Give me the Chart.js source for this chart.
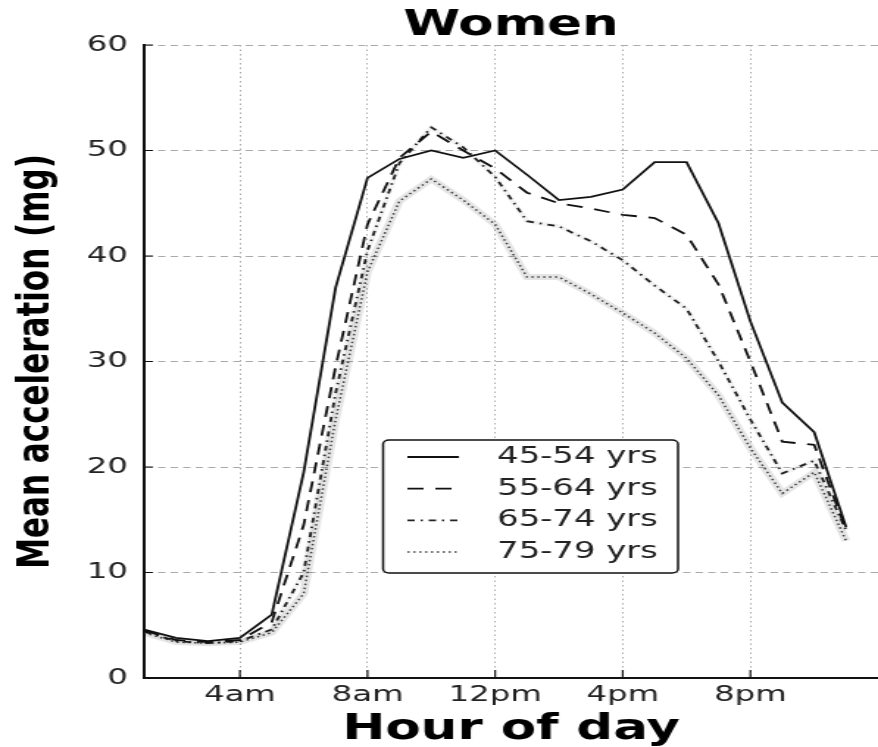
<!DOCTYPE html>
<html>
<head>
<meta charset="utf-8">
<script src="https://cdn.jsdelivr.net/npm/chart.js@4/dist/chart.umd.min.js"></script>
<style>
  html, body { margin: 0; padding: 0; background: #fff; overflow: hidden; }
  /* the original figure is stretched sideways, so we stretch the canvas too */
  #wrap { width: 597px; height: 747px; transform: scaleX(1.4707); transform-origin: 0 0; }
</style>
</head>
<body>
<div id="wrap"><canvas id="grafico" width="597" height="747"></canvas></div>
<script>
// === Dados ===
const hours = [1, 2, 3, 4, 5, 6, 7, 8, 9, 10, 11, 12, 13, 14, 15, 16, 17, 18, 19, 20, 21, 22, 23];

const ageGroups = ['45-54 yrs', '55-64 yrs', '65-74 yrs', '75-79 yrs'];

const age45 = [4.6, 3.8, 3.5, 3.8, 6.0, 19.5, 37.0, 47.4, 49.2, 50.0, 49.3, 50.0, 47.7, 45.3, 45.6, 46.3, 48.9, 48.9, 43.1, 33.8, 26.1, 23.3, 14.3];
const age55 = [4.5, 3.6, 3.4, 3.6, 5.3, 14.5, 29.5, 43.0, 49.3, 51.8, 50.0, 48.3, 46.0, 45.0, 44.5, 43.9, 43.6, 42.0, 37.3, 30.0, 22.4, 22.1, 14.0];
const age65 = [4.4, 3.5, 3.3, 3.5, 4.6, 10.0, 27.0, 40.5, 48.8, 52.2, 50.3, 47.5, 43.3, 42.8, 41.4, 39.6, 37.2, 35.0, 30.0, 24.5, 19.4, 20.6, 14.0];
const age75 = [4.3, 3.4, 3.3, 3.4, 4.3, 8.0, 24.5, 38.5, 45.2, 47.3, 45.3, 43.0, 38.0, 38.0, 36.4, 34.6, 32.7, 30.3, 26.8, 21.8, 17.5, 19.5, 13.0];

const xTickValues = [4, 8, 12, 16, 20];
const xTickLabels = ['4am', '8am', '12pm', '4pm', '8pm'];

function pontos(vals) {
  return vals.map((v, i) => ({ x: hours[i], y: v }));
}

// === Plugins ===
// small inward ticks like the matplotlib original
const innerTicks = {
  id: 'innerTicks',
  afterDatasetsDraw(chart) {
    const { ctx, chartArea: a, scales } = chart;
    ctx.save();
    ctx.strokeStyle = '#111';
    ctx.lineWidth = 1.2;
    ctx.beginPath();
    for (const t of scales.y.ticks) {
      const py = scales.y.getPixelForValue(t.value);
      ctx.moveTo(a.left, py);
      ctx.lineTo(a.left + 6, py);
    }
    for (const t of scales.x.ticks) {
      const px = scales.x.getPixelForValue(t.value);
      ctx.moveTo(px, a.bottom);
      ctx.lineTo(px, a.bottom - 8);
    }
    ctx.stroke();
    ctx.restore();
  }
};

// legend box sitting inside the plot
const boxLegend = {
  id: 'boxLegend',
  afterDatasetsDraw(chart) {
    const { ctx, chartArea: a } = chart;
    const x = a.left + 162.5, y = a.top + 395, w = 200.5, h = 133;
    ctx.save();
    ctx.fillStyle = '#fff';
    ctx.strokeStyle = '#111';
    ctx.lineWidth = 1.5;
    ctx.beginPath();
    ctx.roundRect(x, y, w, h, 4);
    ctx.fill();
    ctx.stroke();

    const itens = chart.data.datasets.filter(d => !d.hideInLegend);
    itens.forEach((d, i) => {
      const cy = y + 17 + i * 31.7;
      ctx.setLineDash(d.borderDash || []);
      ctx.strokeStyle = d.borderColor;
      ctx.lineWidth = d.borderWidth;
      ctx.beginPath();
      ctx.moveTo(x + 16.5, cy);
      ctx.lineTo(x + 51.5, cy);
      ctx.stroke();
      ctx.setLineDash([]);
      ctx.fillStyle = '#222';
      ctx.font = '23px "DejaVu Sans"';
      ctx.textBaseline = 'middle';
      ctx.fillText(d.label, x + 77.5, cy);
    });
    ctx.restore();
  }
};

// === Grafico ===
const ctx = document.getElementById('grafico').getContext('2d');

new Chart(ctx, {
  type: 'line',
  data: {
    datasets: [
      { label: 'band 75', data: pontos(age75), borderColor: 'rgba(0,0,0,0.10)', borderWidth: 6, pointRadius: 0, hideInLegend: true },
      { label: 'band 65', data: pontos(age65), borderColor: 'rgba(0,0,0,0.05)', borderWidth: 4, pointRadius: 0, hideInLegend: true },
      { label: ageGroups[0], data: pontos(age45), borderColor: '#111', borderWidth: 1.8, pointRadius: 0 },
      { label: ageGroups[1], data: pontos(age55), borderColor: '#111', borderWidth: 1.8, borderDash: [11, 8], pointRadius: 0 },
      { label: ageGroups[2], data: pontos(age65), borderColor: '#222', borderWidth: 1.8, borderDash: [5, 4, 1.5, 4], pointRadius: 0 },
      { label: ageGroups[3], data: pontos(age75), borderColor: '#444', borderWidth: 1.5, borderDash: [1.5, 2.5], pointRadius: 0 }
    ]
  },
  options: {
    responsive: false,
    animation: false,
    layout: { padding: 0 },
    plugins: {
      legend: { display: false },
      tooltip: { enabled: false },
      title: {
        display: true,
        text: 'Women',
        fullSize: false,
        color: '#000',
        font: { family: 'DejaVu Sans', size: 35, weight: 'bold' },
        padding: { top: 4.5, bottom: -1.5 }
      }
    },
    scales: {
      x: {
        type: 'linear',
        min: 1,
        max: 24,
        afterFit: scale => { scale.height = 69; },
        afterBuildTicks: scale => { scale.ticks = xTickValues.map(v => ({ value: v })); },
        ticks: {
          color: '#222',
          padding: 4,
          maxRotation: 0,
          font: { family: 'DejaVu Sans', size: 22 },
          callback: value => xTickLabels[xTickValues.indexOf(value)]
        },
        grid: { color: '#aaa', lineWidth: 1, drawTicks: false },
        border: { color: '#111', width: 2, dash: [1.5, 3] },
        title: {
          display: true,
          text: 'Hour of day',
          color: '#000',
          font: { family: 'DejaVu Sans', size: 35, weight: 'bold', lineHeight: 1.0 },
          padding: { top: 0, bottom: 0 }
        }
      },
      y: {
        min: 0,
        max: 60,
        afterFit: scale => { scale.width = 98; },
        ticks: {
          stepSize: 10,
          color: '#222',
          padding: 11,
          font: { family: 'DejaVu Sans', size: 22 }
        },
        grid: { color: '#aaa', lineWidth: 1, drawTicks: false },
        border: { color: '#111', width: 2, dash: [5, 3.5] },
        title: {
          display: true,
          text: 'Mean acceleration (mg)',
          color: '#000',
          font: { family: 'DejaVu Sans', size: 31, weight: 'bold' },
          padding: { top: 6, bottom: 0 }
        }
      }
    }
  },
  plugins: [innerTicks, boxLegend]
});
</script>
</body>
</html>
